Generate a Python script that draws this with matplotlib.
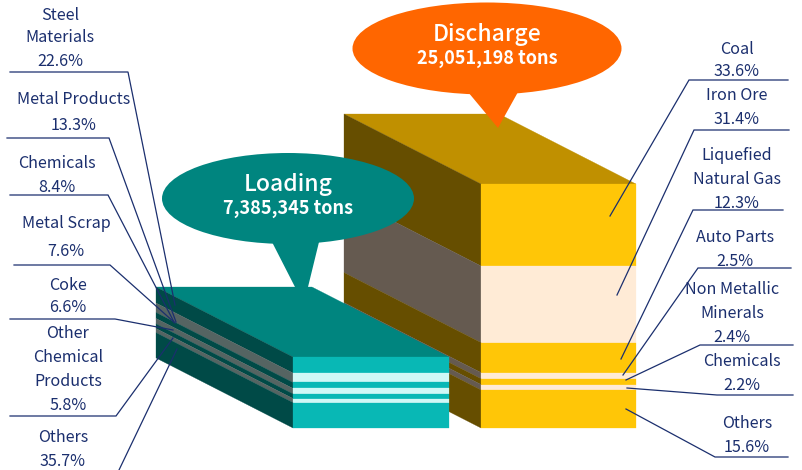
# Cargo breakdown blocks: loading vs discharge
import matplotlib
matplotlib.use('Agg')
import matplotlib.pyplot as plt
from matplotlib.patches import Polygon, Ellipse
import numpy as np

plt.rcParams['font.family'] = ['Noto Sans CJK JP', 'DejaVu Sans']

# data
load_labels = ['Steel\nMaterials', 'Metal Products', 'Chemicals', 'Metal Scrap', 'Coke',
               'Other\nChemical\nProducts', 'Others']
load_shares = [22.6, 13.3, 8.4, 7.6, 6.6, 5.8, 35.7]
load_total = '7,385,345 tons'

disch_labels = ['Coal', 'Iron Ore', 'Liquefied\nNatural Gas', 'Auto Parts',
                'Non Metallic\nMinerals', 'Chemicals', 'Others']
disch_shares = [33.6, 31.4, 12.3, 2.5, 2.4, 2.2, 15.6]
disch_total = '25,051,198 tons'

NAVY = '#1B2F6E'

fig = plt.figure(figsize=(8.03, 4.70), dpi=100)
ax = fig.add_axes([0, 0, 1, 1])
ax.set_xlim(0, 803)
ax.set_ylim(470, 0)
ax.axis('off')


def block(shares, x0, x1, y0, y1, top_col, front_cols, side_cols):
    dx, dy = -137, -70
    ax.add_patch(Polygon([(x0, y0), (x1, y0), (x1 + dx, y0 + dy), (x0 + dx, y0 + dy)],
                         fc=top_col, ec=top_col, lw=0.2, zorder=2))
    edges = y0 + (y1 - y0) * np.concatenate([[0], np.cumsum(shares)]) / np.sum(shares)
    for i in range(len(shares)):
        a, b = edges[i], edges[i + 1]
        ax.add_patch(Polygon([(x0, a), (x0, b), (x0 + dx, b + dy), (x0 + dx, a + dy)],
                             fc=side_cols[i % 2], ec=side_cols[i % 2], lw=0.2, zorder=2))
        ax.add_patch(Polygon([(x0, a), (x1, a), (x1, b), (x0, b)],
                             fc=front_cols[i % 2], ec=front_cols[i % 2], lw=0.2, zorder=2))


block(disch_shares, 481, 636, 184, 428, '#C09000',
      ['#FFC607', '#FFEBD6'], ['#664E00', '#655A50'])
block(load_shares, 293, 449, 357, 428, '#00857F',
      ['#08B8B5', '#D0F8F6'], ['#004A47', '#556462'])

# callouts
ax.add_patch(Ellipse((487, 48.5), 269, 92, fc='#FF6600', ec='none', zorder=3))
ax.add_patch(Polygon([(468, 92), (518, 92), (498, 128)], fc='#FF6600', ec='none', zorder=3))
ax.text(487, 34, 'Discharge', color='white', fontsize=16.5, fontweight='medium',
        ha='center', va='center', zorder=5)
ax.text(487, 58, disch_total, color='white', fontsize=13, fontweight='bold',
        ha='center', va='center', zorder=5)

ax.add_patch(Ellipse((288, 198.5), 252, 91, fc='#00857F', ec='none', zorder=3))
ax.add_patch(Polygon([(272, 242), (319, 242), (308, 287), (295, 287)], fc='#00857F', ec='none', zorder=3))
ax.text(288, 185, 'Loading', color='white', fontsize=16.5, fontweight='medium',
        ha='center', va='center', zorder=5)
ax.text(288, 209, load_total, color='white', fontsize=13, fontweight='bold',
        ha='center', va='center', zorder=5)

# labels: centre x, then y of each text line (layout only)
load_pos = [(60, [14, 37, 60]), (74, [99, 125]), (57, [162, 186]), (66, [223, 250]),
            (68, [284, 307]), (68, [333, 357, 380, 404]), (63, [436, 460])]
disch_pos = [(737, [48, 71]), (737, [95, 118]), (737, [155, 179, 203]), (735, [236, 260]),
             (732, [288, 312, 336]), (742, [360, 384]), (747, [423, 447])]

for labels, shares, pos in ((load_labels, load_shares, load_pos),
                            (disch_labels, disch_shares, disch_pos)):
    for name, share, (x, ys) in zip(labels, shares, pos):
        lines = name.split('\n') + [f'{share}%']
        for line, y in zip(lines, ys):
            ax.text(x, y + 1, line, color=NAVY, fontsize=11.6, ha='center', va='center', zorder=6)

# leader lines
leaders = [
    [(10, 72), (128, 72), (175, 305)],
    [(7, 138), (109, 138), (176, 322)],
    [(10, 195), (108, 195), (174, 322)],
    [(14, 265), (110, 265), (175, 323)],
    [(10, 319), (115, 319), (173, 330)],
    [(10, 416), (116, 416), (173, 338)],
    [(119, 470), (177, 349)],
    [(610, 216), (689, 80), (788, 80)],
    [(617, 295), (694, 130), (789, 130)],
    [(621, 359), (693, 210), (783, 210)],
    [(623, 375), (698, 268), (791, 268)],
    [(626, 380), (700, 345), (793, 345)],
    [(627, 388), (717, 395), (793, 395)],
    [(626, 409), (715, 457), (788, 457)],
]
for pts in leaders:
    xs, ys = zip(*pts)
    ax.plot(xs, ys, color=NAVY, lw=0.9, zorder=4, solid_joinstyle='miter')

fig.savefig('out.png', dpi=100)
